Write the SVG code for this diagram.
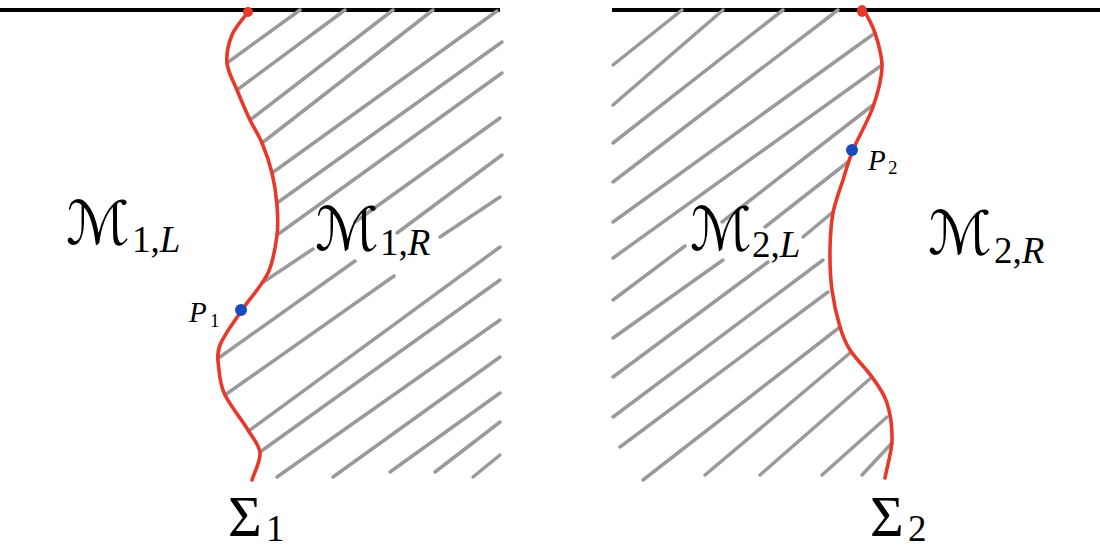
<svg xmlns="http://www.w3.org/2000/svg" width="1100" height="549" viewBox="0 0 1100 549">
<style>
.bnd{stroke:#000;stroke-width:4;fill:none}
.h line{stroke:#9a9a9a;stroke-width:3.5;stroke-linecap:round}
.sig{stroke:#e8382a;stroke-width:3.6;fill:none;stroke-linecap:round}
.pt{fill:#1a4bb8}
.end{fill:#e8382a}
.cal{font-family:"DejaVu Serif","DejaVu Sans",serif;font-size:60px}
.sub{font-family:"Liberation Serif","DejaVu Serif",serif;font-size:37px}
.it{font-style:italic}
.big{font-family:"Liberation Serif","DejaVu Serif",serif;font-size:58px}
.p{font-family:"Liberation Serif","DejaVu Serif",serif;font-size:29px;font-style:italic}
.ps{font-family:"Liberation Serif","DejaVu Serif",serif;font-size:19px}
</style>
<rect width="1100" height="549" fill="#fff"/>
<g id="left-panel">
<line class="bnd" x1="0" y1="10" x2="500" y2="10"/>
<g class="h">
<line x1="227" y1="63" x2="300" y2="10"/>
<line x1="237" y1="90" x2="345" y2="10"/>
<line x1="250" y1="120" x2="393" y2="10"/>
<line x1="262" y1="143" x2="433" y2="10"/>
<line x1="272" y1="173" x2="497" y2="11"/>
<line x1="277" y1="203" x2="502" y2="42"/>
<line x1="277" y1="235" x2="502" y2="73"/>
<line x1="262" y1="283" x2="313" y2="249"/>
<line x1="355" y1="222" x2="500" y2="118"/>
<line x1="220" y1="357" x2="355" y2="261"/>
<line x1="397" y1="233" x2="502" y2="155"/>
<line x1="225" y1="395" x2="394" y2="276"/>
<line x1="440" y1="237" x2="500" y2="197"/>
<line x1="250" y1="430" x2="500" y2="247"/>
<line x1="260" y1="452" x2="500" y2="280"/>
<line x1="277" y1="477" x2="500" y2="320"/>
<line x1="333" y1="477" x2="500" y2="357"/>
<line x1="390" y1="472" x2="500" y2="393"/>
<line x1="435" y1="472" x2="500" y2="422"/>
<line x1="473" y1="477" x2="500" y2="455"/>
</g>
<path class="sig" d="M248,12 C242.7,19.7 235.5,26.5 232,35 C228.5,43.5 226.2,53.8 227,63 C227.8,72.2 233.2,80.5 237,90 C240.8,99.5 245.8,111.2 250,120 C254.2,128.8 258.3,134.2 262,143 C265.7,151.8 269.5,162.7 272,173 C274.5,183.3 276.2,194.7 277,205 C277.8,215.3 278.5,223.7 277,235 C275.5,246.3 273.8,260.5 268,273 C262.2,285.5 250,298 242,310 C234,322 223.8,335 220,345 C216.2,355 218.2,361.7 219,370 C219.8,378.3 220.2,385 225,395 C229.8,405 242.2,420.3 248,430 C253.8,439.7 259.3,444.7 260,453 C260.7,461.3 254.7,471 252,480"/>
<circle class="end" cx="248" cy="12" r="5"/>
<circle class="pt" cx="241" cy="310" r="6"/>
</g>
<g id="right-panel">
<line class="bnd" x1="612" y1="10" x2="1100" y2="10"/>
<g class="h">
<line x1="613" y1="65" x2="682" y2="10"/>
<line x1="613" y1="105" x2="723" y2="10"/>
<line x1="613" y1="143" x2="783" y2="10"/>
<line x1="613" y1="182" x2="838" y2="10"/>
<line x1="613" y1="222" x2="875" y2="33"/>
<line x1="613" y1="258" x2="882" y2="65"/>
<line x1="613" y1="300" x2="685" y2="246"/>
<line x1="722" y1="222" x2="873" y2="105"/>
<line x1="613" y1="338" x2="723" y2="260"/>
<line x1="765" y1="227" x2="848" y2="162"/>
<line x1="613" y1="377" x2="768" y2="262"/>
<line x1="803" y1="237" x2="833" y2="212"/>
<line x1="613" y1="417" x2="823" y2="260"/>
<line x1="620" y1="447" x2="828" y2="292"/>
<line x1="643" y1="480" x2="840" y2="327"/>
<line x1="705" y1="475" x2="850" y2="353"/>
<line x1="760" y1="475" x2="872" y2="377"/>
<line x1="822" y1="475" x2="887" y2="417"/>
<line x1="862" y1="475" x2="892" y2="443"/>
</g>
<path class="sig" d="M863,8 C867,16.3 871.8,23.2 875,33 C878.2,42.8 882.3,54.7 882,67 C881.7,79.3 877.8,93.2 873,107 C868.2,120.8 858,137.8 853,150 C848,162.2 846.3,169.5 843,180 C839.7,190.5 835.2,201.3 833,213 C830.8,224.7 830.2,237.2 830,250 C829.8,262.8 830.3,277.2 832,290 C833.7,302.8 837,317 840,327 C843,337 844.7,341.7 850,350 C855.3,358.3 865.8,368.2 872,377 C878.2,385.8 883.7,392.5 887,403 C890.3,413.5 892.3,427.5 892,440 C891.7,452.5 887.3,465.3 885,478"/>
<ellipse class="end" cx="862" cy="11" rx="5" ry="6"/>
<circle class="pt" cx="852" cy="150" r="6"/>
</g>
<g id="labels">
<text class="cal" x="66" y="244" textLength="64" lengthAdjust="spacingAndGlyphs">ℳ</text>
<text class="sub" x="132" y="252">1,<tspan class="it">L</tspan></text>
<text class="cal" x="315" y="250" textLength="64" lengthAdjust="spacingAndGlyphs">ℳ</text>
<text class="sub" x="380" y="255">1,<tspan class="it">R</tspan></text>
<text class="cal" x="690" y="250" textLength="62" lengthAdjust="spacingAndGlyphs">ℳ</text>
<text class="sub" x="752" y="257">2,<tspan class="it">L</tspan></text>
<text class="cal" x="928" y="254" textLength="64" lengthAdjust="spacingAndGlyphs">ℳ</text>
<text class="sub" x="994" y="263">2,<tspan class="it">R</tspan></text>
<text y="322"><tspan class="p" x="189">P</tspan><tspan class="ps" x="210" y="327">1</tspan></text>
<text y="170"><tspan class="p" x="868">P</tspan><tspan class="ps" x="888" y="174">2</tspan></text>
<text class="big" x="228" y="536">Σ</text>
<text class="sub" x="266" y="541">1</text>
<text class="big" x="870" y="536">Σ</text>
<text class="sub" x="908" y="541">2</text>
</g>
</svg>
